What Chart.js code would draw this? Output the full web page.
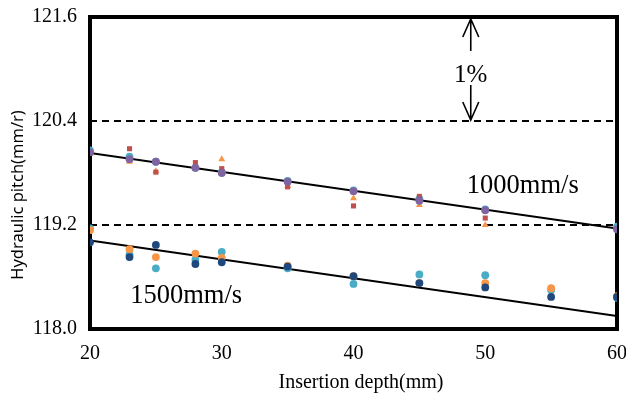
<!DOCTYPE html>
<html>
<head>
<meta charset="utf-8">
<script src="https://cdn.jsdelivr.net/npm/chart.js@4"></script>
<style>
  html, body { margin: 0; padding: 0; background: #fff; }
  #wrap { width: 626px; height: 403px; }
</style>
</head>
<body>
<div id="wrap"><canvas id="myChart" width="626" height="403"></canvas></div>
<script>
// x values (insertion depth, mm)
const depthsA = [20, 23, 25, 28, 30, 35, 40, 45, 50, 60];
const depthsB = [20, 23, 25, 28, 30, 35, 40, 45, 50];
const depthsC = [20, 23, 25, 28, 30, 35, 40, 45, 50, 55, 60];

// 1000 mm/s group
const upperPurple = [120.04, 119.96, 119.93, 119.86, 119.80, 119.70, 119.59, 119.48, 119.37, 119.15];
const upperBlue   = [120.06, 119.99, 119.93, 119.86, 119.81, 119.71, 119.60, 119.50, 119.38, 119.18];
const upperRed    = [120.04, 120.08, 119.81, 119.92, 119.85, 119.64, 119.42, 119.53, 119.28];
const upperOrange = [120.02, 119.93, 119.82, 119.88, 119.96, 119.65, 119.51, 119.43, 119.20];

// 1500 mm/s group
const lowerNavy   = [119.00, 118.83, 118.97, 118.75, 118.77, 118.72, 118.61, 118.53, 118.48, 118.37, 118.37];
const lowerOrange = [119.14, 118.92, 118.83, 118.87, 118.82, 118.73, 118.61, 118.53, 118.53, 118.47, 118.38];
const lowerCyan   = [119.16, 118.86, 118.70, 118.80, 118.89, 118.70, 118.52, 118.63, 118.62, 118.45, 118.36];

// trend lines and reference lines
const trendX = [20, 60];
const trendUpper = [120.03, 119.16];
const trendLower = [119.02, 118.15];
const refLines = [120.4, 119.2];

const xTicks = [20, 30, 40, 50, 60];
const yTicks = [118.0, 119.2, 120.4, 121.6];

const pts = (xs, ys) => xs.map((x, i) => ({ x: x, y: ys[i] }));

const serif = '"Liberation Serif", "Times New Roman", serif';

function dot(label, xs, ys, color, style) {
    return {
        label: label,
        data: pts(xs, ys),
        backgroundColor: color,
        borderColor: color,
        borderWidth: 0,
        pointStyle: style || 'circle',
        pointRadius: style === 'triangle' ? 4 : (style === 'rect' ? 3.6 : 3.9),
        showLine: false
    };
}

function line(label, xs, ys, dash) {
    return {
        label: label,
        data: pts(xs, ys),
        borderColor: '#000',
        borderWidth: 2,
        borderDash: dash || [],
        pointRadius: 0,
        showLine: true,
        fill: false
    };
}

const annotations = {
    id: 'annotations',
    beforeDatasetsDraw(chart) {
        const { ctx, chartArea: a, scales } = chart;
        const ys = scales.y;
        ctx.save();
        // inward y ticks
        ctx.strokeStyle = '#000';
        ctx.lineWidth = 1.5;
        yTicks.forEach(v => {
            const y = ys.getPixelForValue(v);
            ctx.beginPath();
            ctx.moveTo(a.left, y);
            ctx.lineTo(a.left + 6, y);
            ctx.stroke();
        });
        // frame
        ctx.lineWidth = 4;
        ctx.strokeRect(a.left, a.top, a.right - a.left, a.bottom - a.top);
        ctx.restore();
    },
    afterDatasetsDraw(chart) {
        const { ctx, scales } = chart;
        const xs = scales.x, ys = scales.y;
        ctx.save();
        ctx.strokeStyle = '#000';

        // 1% arrows
        const ax = xs.getPixelForValue(48.9);
        const top = ys.getPixelForValue(121.6);
        const ref = ys.getPixelForValue(120.4);
        ctx.lineWidth = 1.6;
        ctx.beginPath();
        ctx.moveTo(ax, top + 2); ctx.lineTo(ax, top + 34);
        ctx.moveTo(ax - 8, top + 20); ctx.lineTo(ax, top + 2); ctx.lineTo(ax + 8, top + 20);
        ctx.moveTo(ax, ref - 36); ctx.lineTo(ax, ref - 1);
        ctx.moveTo(ax - 8, ref - 19); ctx.lineTo(ax, ref - 1); ctx.lineTo(ax + 8, ref - 19);
        ctx.stroke();

        ctx.fillStyle = '#000';
        ctx.textBaseline = 'middle';
        ctx.textAlign = 'center';
        ctx.font = '25px ' + serif;
        ctx.fillText('1%', ax, (top + ref) / 2 + 6);

        ctx.font = '26.5px ' + serif;
        ctx.textAlign = 'left';
        ctx.fillText('1000mm/s', xs.getPixelForValue(48.6), ys.getPixelForValue(119.65));
        ctx.fillText('1500mm/s', xs.getPixelForValue(23.05), ys.getPixelForValue(118.38));

        // x axis title
        ctx.textAlign = 'center';
        ctx.font = '20px ' + serif;
        ctx.fillText('Insertion depth(mm)', 361, 383);

        // y axis title
        ctx.translate(18, 195);
        ctx.rotate(-Math.PI / 2);
        ctx.font = '16.5px "Noto Sans", sans-serif';
        ctx.fillText('Hydraulic pitch(mm/r)', 0, 0);
        ctx.restore();
    }
};

const ctx = document.getElementById('myChart').getContext('2d');
const myChart = new Chart(ctx, {
    type: 'scatter',
    data: {
        datasets: [
            dot('1000 purple', depthsA, upperPurple, '#8064A2'),
            dot('1000 red', depthsB, upperRed, '#C0504D', 'rect'),
            dot('1000 orange', depthsB, upperOrange, '#F79646', 'triangle'),
            dot('1000 blue', depthsA, upperBlue, '#4BACC6'),
            dot('1500 navy', depthsC, lowerNavy, '#1F497D'),
            dot('1500 orange', depthsC, lowerOrange, '#F79646'),
            dot('1500 cyan', depthsC, lowerCyan, '#4BACC6'),
            line('trend 1000', trendX, trendUpper),
            line('trend 1500', trendX, trendLower),
            line('ref 120.4', trendX, [refLines[0], refLines[0]], [7, 5]),
            line('ref 119.2', trendX, [refLines[1], refLines[1]], [7, 5])
        ]
    },
    options: {
        responsive: false,
        animation: false,
        layout: { padding: { top: 17, right: 9, left: 0, bottom: 0 } },
        plugins: { legend: { display: false }, tooltip: { enabled: false } },
        scales: {
            x: {
                type: 'linear',
                min: 20,
                max: 60,
                grid: { display: false, drawTicks: false },
                border: { display: false },
                afterBuildTicks: axis => { axis.ticks = xTicks.map(v => ({ value: v })); },
                afterFit: axis => {
                    axis.height = 74;
                    axis.paddingLeft = 0;
                    axis.paddingRight = 0;
                },
                ticks: {
                    padding: 13,
                    color: '#000',
                    font: { family: serif, size: 20 }
                }
            },
            y: {
                min: 118.0,
                max: 121.6,
                grid: { display: false, drawTicks: false },
                border: { display: false },
                afterBuildTicks: axis => { axis.ticks = yTicks.map(v => ({ value: v })); },
                afterFit: axis => {
                    axis.width = 90;
                    axis.paddingTop = 0;
                    axis.paddingBottom = 0;
                },
                ticks: {
                    padding: 13,
                    color: '#000',
                    font: { family: serif, size: 20 },
                    callback: v => v.toFixed(1)
                }
            }
        }
    },
    plugins: [annotations]
});
</script>
</body>
</html>
